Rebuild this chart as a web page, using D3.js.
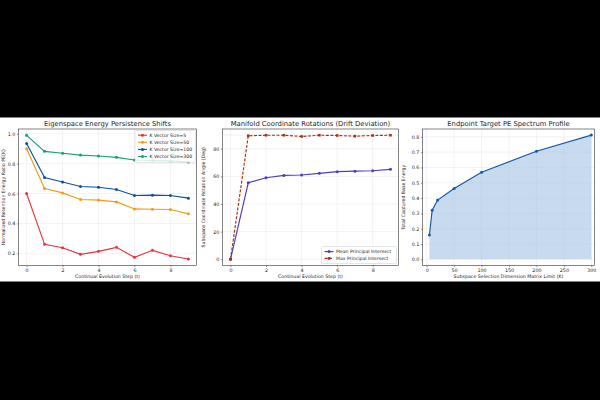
<!DOCTYPE html>
<html>
<head>
<meta charset="utf-8">
<script src="https://cdn.jsdelivr.net/npm/d3@7"></script>
<style>
  body { margin: 0; background: #000; }
  text { font-family: "DejaVu Sans", sans-serif; fill: #222; }
</style>
</head>
<body>
<div id="chart"></div>
<script>
// ---- data ----
const steps = [0, 1, 2, 3, 4, 5, 6, 7, 8, 9];
const k5   = [0.60, 0.26, 0.237, 0.193, 0.213, 0.24, 0.173, 0.22, 0.184, 0.162];
const k50  = [0.90, 0.633, 0.604, 0.56, 0.556, 0.544, 0.497, 0.495, 0.493, 0.464];
const k100 = [0.935, 0.707, 0.677, 0.647, 0.642, 0.627, 0.587, 0.589, 0.587, 0.569];
const k300 = [0.989, 0.882, 0.869, 0.857, 0.851, 0.842, 0.824, 0.821, 0.818, 0.811];
const seriesNames = ["K Vector Size=5", "K Vector Size=50", "K Vector Size=100", "K Vector Size=300"];
const seriesColors = ["#e8343c", "#f59a16", "#0d4f9e", "#14a078"];

const meanAngle = [0, 55.4, 59.0, 60.7, 61.0, 62.2, 63.4, 63.8, 64.1, 65.1];
const maxAngle  = [0, 89.4, 89.8, 89.8, 88.9, 89.8, 89.6, 89.1, 89.6, 89.8];

const kDims   = [5, 10, 20, 50, 100, 200, 300];
const energyK = [0.159, 0.321, 0.387, 0.463, 0.568, 0.706, 0.811];

const W = 600, H = 400;
const plotTop = 129, plotBottom = 265.5;
const lw = 1.15, mr = 1.5;

const svg = d3.select("#chart").append("svg")
    .attr("width", W).attr("height", H);
svg.append("rect").attr("width", W).attr("height", H).attr("fill", "#000");
svg.append("rect").attr("x", 0).attr("y", 117.5).attr("width", W).attr("height", 164).attr("fill", "#fff");

function panel(x0, x1, xDomain, yDomain, xTicks, yTicks, title, xLabel, yLabel, yLabelX, yFmt) {
    const x = d3.scaleLinear().domain(xDomain).range([x0, x1]);
    const y = d3.scaleLinear().domain(yDomain).range([plotBottom, plotTop]);
    const g = svg.append("g");
    // grid
    g.selectAll(".gx").data(xTicks).enter().append("line")
        .attr("x1", d => x(d)).attr("x2", d => x(d))
        .attr("y1", plotTop).attr("y2", plotBottom)
        .attr("stroke", "#e6e6e6").attr("stroke-width", 0.5);
    g.selectAll(".gy").data(yTicks).enter().append("line")
        .attr("y1", d => y(d)).attr("y2", d => y(d))
        .attr("x1", x0).attr("x2", x1)
        .attr("stroke", "#e6e6e6").attr("stroke-width", 0.5);
    // axes
    const ax = g.append("g").attr("transform", `translate(0,${plotBottom})`)
        .call(d3.axisBottom(x).tickValues(xTicks).tickSize(1.6).tickPadding(1.5).tickFormat(d3.format("d")));
    const ay = g.append("g").attr("transform", `translate(${x0},0)`)
        .call(d3.axisLeft(y).tickValues(yTicks).tickSize(1.6).tickPadding(1.5).tickFormat(yFmt));
    [ax, ay].forEach(a => {
        a.select(".domain").remove();
        a.selectAll("line").attr("stroke", "#333").attr("stroke-width", 0.5);
        a.selectAll("text").attr("font-size", 4.8).attr("fill", "#222");
    });
    g.append("rect").attr("x", x0).attr("y", plotTop).attr("width", x1 - x0).attr("height", plotBottom - plotTop)
        .attr("fill", "none").attr("stroke", "#333").attr("stroke-width", 0.6);
    g.append("text").attr("x", (x0 + x1) / 2).attr("y", 125.5).attr("text-anchor", "middle")
        .attr("font-size", 6.8).attr("fill", "#111").text(title);
    g.append("text").attr("x", (x0 + x1) / 2).attr("y", 277.5).attr("text-anchor", "middle")
        .attr("font-size", 4.7).text(xLabel);
    g.append("text").attr("transform", `translate(${yLabelX},${(plotTop + plotBottom) / 2}) rotate(-90)`)
        .attr("text-anchor", "middle").attr("font-size", 4.7).text(yLabel);
    return { x, y, g };
}

// ---- panel 1 ----
const p1 = panel(18.5, 196.5, [-0.45, 9.45], [0.1185, 1.0315], [0, 2, 4, 6, 8], [0.2, 0.4, 0.6, 0.8, 1.0],
    "Eigenspace Energy Persistence Shifts", "Continual Evolution Step (t)",
    "Normalized Retention Energy Ratio PE(K)", 4.5, d3.format(".1f"));
[k5, k50, k100, k300].forEach((vals, i) => {
    const line = d3.line().x((d, j) => p1.x(steps[j])).y(d => p1.y(d));
    p1.g.append("path").datum(vals).attr("d", line).attr("fill", "none")
        .attr("stroke", seriesColors[i]).attr("stroke-width", lw);
    p1.g.selectAll(null).data(vals).enter().append("circle")
        .attr("cx", (d, j) => p1.x(steps[j])).attr("cy", d => p1.y(d)).attr("r", mr)
        .attr("fill", seriesColors[i]);
});
const lg1 = p1.g.append("g");
lg1.append("rect").attr("x", 135).attr("y", 130.5).attr("width", 60.5).attr("height", 32)
    .attr("rx", 1).attr("fill", "#fff").attr("fill-opacity", 0.8).attr("stroke", "#ccc").attr("stroke-width", 0.5);
seriesNames.forEach((n, i) => {
    const yy = 135.2 + i * 7.1;
    lg1.append("line").attr("x1", 138).attr("x2", 147).attr("y1", yy).attr("y2", yy)
        .attr("stroke", seriesColors[i]).attr("stroke-width", lw);
    lg1.append("circle").attr("cx", 142.5).attr("cy", yy).attr("r", mr).attr("fill", seriesColors[i]);
    lg1.append("text").attr("x", 149.5).attr("y", yy + 1.6).attr("font-size", 4.6).text(n);
});

// ---- panel 2 ----
const p2 = panel(222.5, 398.5, [-0.45, 9.45], [-4.49, 94.3], [0, 2, 4, 6, 8], [0, 20, 40, 60, 80],
    "Manifold Coordinate Rotations (Drift Deviation)", "Continual Evolution Step (t)",
    "Subspace Coordinate Rotation Angle (Deg)", 205, d3.format("d"));
p2.g.append("line").attr("x1", 222.5).attr("x2", 398.5).attr("y1", p2.y(90)).attr("y2", p2.y(90))
    .attr("stroke", "#bbb").attr("stroke-width", 0.7).attr("stroke-dasharray", "0.8,1").attr("opacity", 0.7);
const meanColor = "#4a3fc2", maxColor = "#a8320c";
const line2 = d3.line().x((d, j) => p2.x(steps[j])).y(d => p2.y(d));
p2.g.append("path").datum(maxAngle).attr("d", line2).attr("fill", "none")
    .attr("stroke", maxColor).attr("stroke-width", lw).attr("stroke-dasharray", "3,1.5");
p2.g.append("path").datum(meanAngle).attr("d", line2).attr("fill", "none")
    .attr("stroke", meanColor).attr("stroke-width", lw);
p2.g.selectAll(null).data(meanAngle).enter().append("circle")
    .attr("cx", (d, j) => p2.x(steps[j])).attr("cy", d => p2.y(d)).attr("r", mr).attr("fill", meanColor);
p2.g.selectAll(null).data(maxAngle).enter().append("rect")
    .attr("x", (d, j) => p2.x(steps[j]) - 1.3).attr("y", d => p2.y(d) - 1.3)
    .attr("width", 2.6).attr("height", 2.6).attr("fill", maxColor);
const lg2 = p2.g.append("g");
lg2.append("rect").attr("x", 321.5).attr("y", 246.5).attr("width", 75).attr("height", 17)
    .attr("rx", 1).attr("fill", "#fff").attr("fill-opacity", 0.8).attr("stroke", "#ccc").attr("stroke-width", 0.5);
[["Mean Principal Intersect", meanColor, false], ["Max Principal Intersect", maxColor, true]].forEach((e, i) => {
    const yy = 251.6 + i * 6.8;
    const l = lg2.append("line").attr("x1", 324.5).attr("x2", 333.5).attr("y1", yy).attr("y2", yy)
        .attr("stroke", e[1]).attr("stroke-width", lw);
    if (e[2]) {
        l.attr("stroke-dasharray", "3,1.5");
        lg2.append("rect").attr("x", 327.7).attr("y", yy - 1.3).attr("width", 2.6).attr("height", 2.6).attr("fill", e[1]);
    } else {
        lg2.append("circle").attr("cx", 329).attr("cy", yy).attr("r", mr).attr("fill", e[1]);
    }
    lg2.append("text").attr("x", 336).attr("y", yy + 1.6).attr("font-size", 4.6).text(e[0]);
});

// ---- panel 3 ----
const p3 = panel(422.5, 594.5, [-7.6, 305.8], [-0.0405, 0.851], [0, 50, 100, 150, 200, 250, 300],
    [0.0, 0.1, 0.2, 0.3, 0.4, 0.5, 0.6, 0.7, 0.8],
    "Endpoint Target PE Spectrum Profile", "Subspace Selection Dimension Matrix Limit (K)",
    "Total Captured Base Energy", 405, d3.format(".1f"));
const area3 = d3.area().x((d, j) => p3.x(kDims[j])).y0(p3.y(0)).y1(d => p3.y(d));
p3.g.append("path").datum(energyK).attr("d", area3).attr("fill", "#a3c2e1").attr("opacity", 0.6);
const line3 = d3.line().x((d, j) => p3.x(kDims[j])).y(d => p3.y(d));
p3.g.append("path").datum(energyK).attr("d", line3).attr("fill", "none")
    .attr("stroke", "#1459a8").attr("stroke-width", lw);
p3.g.selectAll(null).data(energyK).enter().append("circle")
    .attr("cx", (d, j) => p3.x(kDims[j])).attr("cy", d => p3.y(d)).attr("r", mr).attr("fill", "#1459a8");
</script>
</body>
</html>
